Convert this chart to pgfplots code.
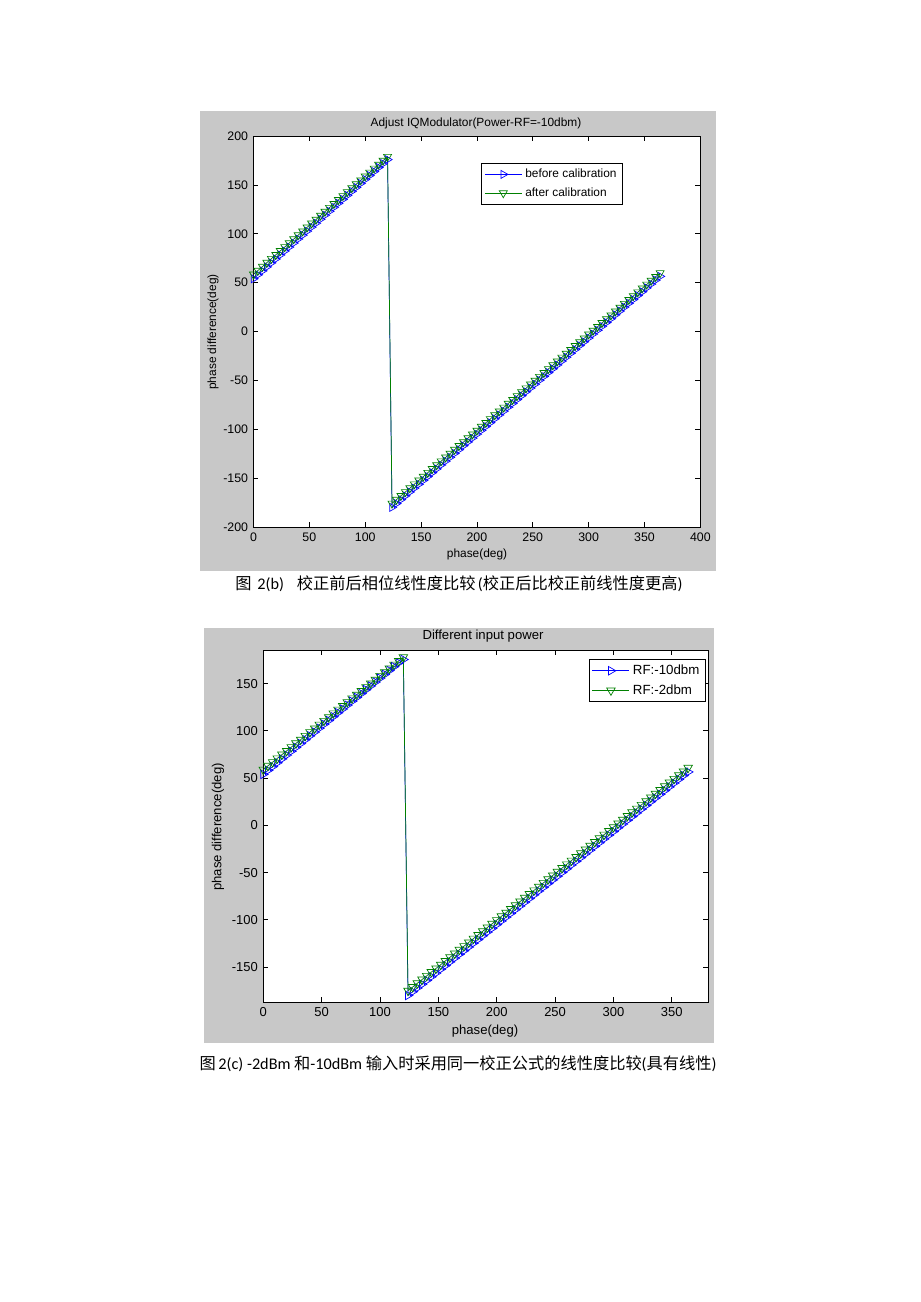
\documentclass[border=0pt]{standalone}
\usepackage{fontspec}
\setmainfont{Liberation Sans}
\newfontfamily\cjk{Noto Sans CJK SC}
\newfontfamily\capfont{Carlito}
\usepackage{pgfplots}
\usepackage{pgfplotstable}
\pgfplotsset{compat=1.18}
\definecolor{mblue}{RGB}{0,0,255}
\definecolor{mgreen}{RGB}{0,128,0}
\definecolor{figgray}{RGB}{200,200,200}

\pgfplotstableread{
x before after rfa rfb
0 54.0 58.5 54.0 59.0
4 58.1 62.5 58.1 63.0
8 62.1 66.5 62.1 66.9
12 66.2 70.6 66.2 70.9
16 70.3 74.6 70.3 74.9
20 74.3 78.6 74.3 78.8
24 78.4 82.6 78.4 82.8
28 82.5 86.6 82.5 86.8
32 86.5 90.6 86.5 90.7
36 90.6 94.7 90.6 94.7
40 94.7 98.7 94.7 98.7
44 98.7 102.7 98.7 102.6
48 102.8 106.7 102.8 106.6
52 106.9 110.7 106.9 110.6
56 110.9 114.7 110.9 114.5
60 115.0 118.8 115.0 118.5
64 119.1 122.8 119.1 122.5
68 123.1 126.8 123.1 126.4
72 127.2 130.8 127.2 130.4
76 131.3 134.8 131.3 134.4
80 135.3 138.8 135.3 138.3
84 139.4 142.9 139.4 142.3
88 143.5 146.9 143.5 146.3
92 147.5 150.9 147.5 150.2
96 151.6 154.9 151.6 154.2
100 155.7 158.9 155.7 158.2
104 159.7 162.9 159.7 162.1
108 163.8 167.0 163.8 166.1
112 167.9 171.0 167.9 170.1
116 171.9 175.0 171.9 174.0
120 176.0 179.0 175.5 178.0
124 -180.0 -176.0 -180.0 -175.0
128 -176.1 -172.1 -176.1 -171.1
132 -172.1 -168.1 -172.1 -167.1
136 -168.2 -164.2 -168.2 -163.2
140 -164.2 -160.3 -164.2 -159.3
144 -160.3 -156.3 -160.3 -155.3
148 -156.4 -152.4 -156.4 -151.4
152 -152.4 -148.5 -152.4 -147.5
156 -148.5 -144.5 -148.5 -143.5
160 -144.5 -140.6 -144.5 -139.6
164 -140.6 -136.7 -140.6 -135.7
168 -136.6 -132.7 -136.6 -131.7
172 -132.7 -128.8 -132.7 -127.8
176 -128.8 -124.9 -128.8 -123.9
180 -124.8 -120.9 -124.8 -119.9
184 -120.9 -117.0 -120.9 -116.0
188 -116.9 -113.1 -116.9 -112.1
192 -113.0 -109.1 -113.0 -108.1
196 -109.1 -105.2 -109.1 -104.2
200 -105.1 -101.3 -105.1 -100.3
204 -101.2 -97.3 -101.2 -96.3
208 -97.2 -93.4 -97.2 -92.4
212 -93.3 -89.5 -93.3 -88.5
216 -89.3 -85.5 -89.3 -84.5
220 -85.4 -81.6 -85.4 -80.6
224 -81.5 -77.7 -81.5 -76.7
228 -77.5 -73.7 -77.5 -72.7
232 -73.6 -69.8 -73.6 -68.8
236 -69.6 -65.9 -69.6 -64.9
240 -65.7 -61.9 -65.7 -60.9
244 -61.7 -58.0 -61.7 -57.0
248 -57.8 -54.1 -57.8 -53.1
252 -53.9 -50.1 -53.9 -49.1
256 -49.9 -46.2 -49.9 -45.2
260 -46.0 -42.3 -46.0 -41.3
264 -42.0 -38.3 -42.0 -37.3
268 -38.1 -34.4 -38.1 -33.4
272 -34.2 -30.5 -34.2 -29.5
276 -30.2 -26.5 -30.2 -25.5
280 -26.3 -22.6 -26.3 -21.6
284 -22.3 -18.7 -22.3 -17.7
288 -18.4 -14.7 -18.4 -13.7
292 -14.4 -10.8 -14.4 -9.8
296 -10.5 -6.9 -10.5 -5.9
300 -6.6 -2.9 -6.6 -1.9
304 -2.6 1.0 -2.6 2.0
308 1.3 4.9 1.3 5.9
312 5.3 8.9 5.3 9.9
316 9.2 12.8 9.2 13.8
320 13.1 16.7 13.1 17.7
324 17.1 20.7 17.1 21.7
328 21.0 24.6 21.0 25.6
332 25.0 28.5 25.0 29.5
336 28.9 32.5 28.9 33.5
340 32.8 36.4 32.8 37.4
344 36.8 40.3 36.8 41.3
348 40.7 44.3 40.7 45.3
352 44.7 48.2 44.7 49.2
356 48.6 52.1 48.6 53.1
360 52.6 56.1 52.6 57.1
364 56.5 60.0 56.5 61.0
}\phasedata

\pgfplotsset{
  mlab/.style={
    scale only axis, anchor=south west,
    axis line style={black, line width=0.5pt},
    tick align=inside, tick pos=both,
    major tick length=3.2pt,
    every tick/.style={black, line width=0.5pt},
    axis background/.style={fill=white},
    /pgf/number format/assume math mode=true,
    scaled ticks=false,
    legend cell align=left,
    legend image code/.code={\draw[mark repeat=2,mark phase=2] plot coordinates {(0pt,0pt) (12pt,0pt) (24pt,0pt)};},
  },
  bser/.style={color=mblue, line width=0.45pt, mark=triangle, mark size=3pt, mark options={rotate=-90, solid, line width=0.45pt}},
  gser/.style={color=mgreen, line width=0.45pt, mark=triangle, mark size=3pt, mark options={rotate=180, solid, line width=0.45pt}},
}

\begin{document}
\begin{tikzpicture}
\begin{scope}[x=0.647pt, y=-0.647pt]
  \path[use as bounding box, fill=white] (0,0) rectangle (920,1302);
  \fill[figgray] (200,111) rectangle (716,571);
  \fill[figgray] (204,628) rectangle (714,1043);
  \coordinate (A1) at (253.5,526.9);
  \coordinate (A2) at (263.3,1002);
\end{scope}

% ---------- top chart ----------
\begin{axis}[mlab, at={(A1)},
  width=289.1pt, height=252.8pt,
  xmin=0, xmax=400, ymin=-200, ymax=200,
  xtick={0,50,...,400}, ytick={-200,-150,...,200},
  ticklabel style={font=\fontsize{8}{9}\selectfont},
  legend style={at={(0.509,0.931)}, anchor=north west, draw=black, line width=0.5pt,
    font=\fontsize{7.7}{8}\selectfont, inner xsep=2pt, inner ysep=1.5pt, row sep=1pt},
]
\addplot[bser] table[x=x, y=before] {\phasedata};
\addlegendentry{before calibration}
\addplot[gser] table[x=x, y=after] {\phasedata};
\addlegendentry{after calibration}
\end{axis}

% ---------- bottom chart ----------
\begin{axis}[mlab, at={(A2)},
  width=287.7pt, height=227.4pt,
  xmin=0, xmax=381, ymin=-187, ymax=185,
  xtick={0,50,...,350}, ytick={-150,-100,...,150},
  ticklabel style={font=\fontsize{8.4}{9}\selectfont},
  legend style={at={(0.9955,0.976)}, anchor=north east, draw=black, line width=0.5pt,
    font=\fontsize{8.6}{9}\selectfont, inner xsep=2pt, inner ysep=1.5pt, row sep=1pt},
]
\addplot[bser, mark size=3.2pt] table[x=x, y=rfa] {\phasedata};
\addlegendentry{RF:-10dbm}
\addplot[gser, mark size=3.2pt] table[x=x, y=rfb] {\phasedata};
\addlegendentry{RF:-2dbm}
\end{axis}

\begin{scope}[x=0.647pt, y=-0.647pt]
  % top chart texts
  \node[font=\fontsize{7.7}{8}\selectfont] at (476,123) {Adjust IQModulator(Power-RF=-10dbm)};
  \node[font=\fontsize{7.7}{8}\selectfont] at (477,554) {phase(deg)};
  \node[font=\fontsize{7.7}{8}\selectfont, rotate=90] at (213,332) {phase difference(deg)};
  \node[font=\fontsize{10.5}{12}\selectfont, inner sep=0pt] at (459,584)
    {{\cjk 图}\hspace{0.35em}{\capfont 2(b)}\hspace{0.8em}{\cjk 校正前后相位线性度比较}\hspace{0.15em}{\capfont (}{\cjk 校正后比校正前线性度更高}{\capfont )}};
  % bottom chart texts
  \node[font=\fontsize{8.5}{9}\selectfont] at (483,636) {Different input power};
  \node[font=\fontsize{8.5}{9}\selectfont] at (485,1031) {phase(deg)};
  \node[font=\fontsize{8.5}{9}\selectfont, rotate=90] at (218,827) {phase difference(deg)};
  \node[font=\fontsize{10.5}{12}\selectfont, inner sep=0pt] at (458,1064)
    {{\cjk 图}\,{\capfont 2(c) -2dBm }{\cjk 和}{\capfont -10dBm }{\cjk 输入时采用同一校正公式的线性度比较}{\capfont (}{\cjk 具有线性}{\capfont )}};
\end{scope}
\end{tikzpicture}
\end{document}
